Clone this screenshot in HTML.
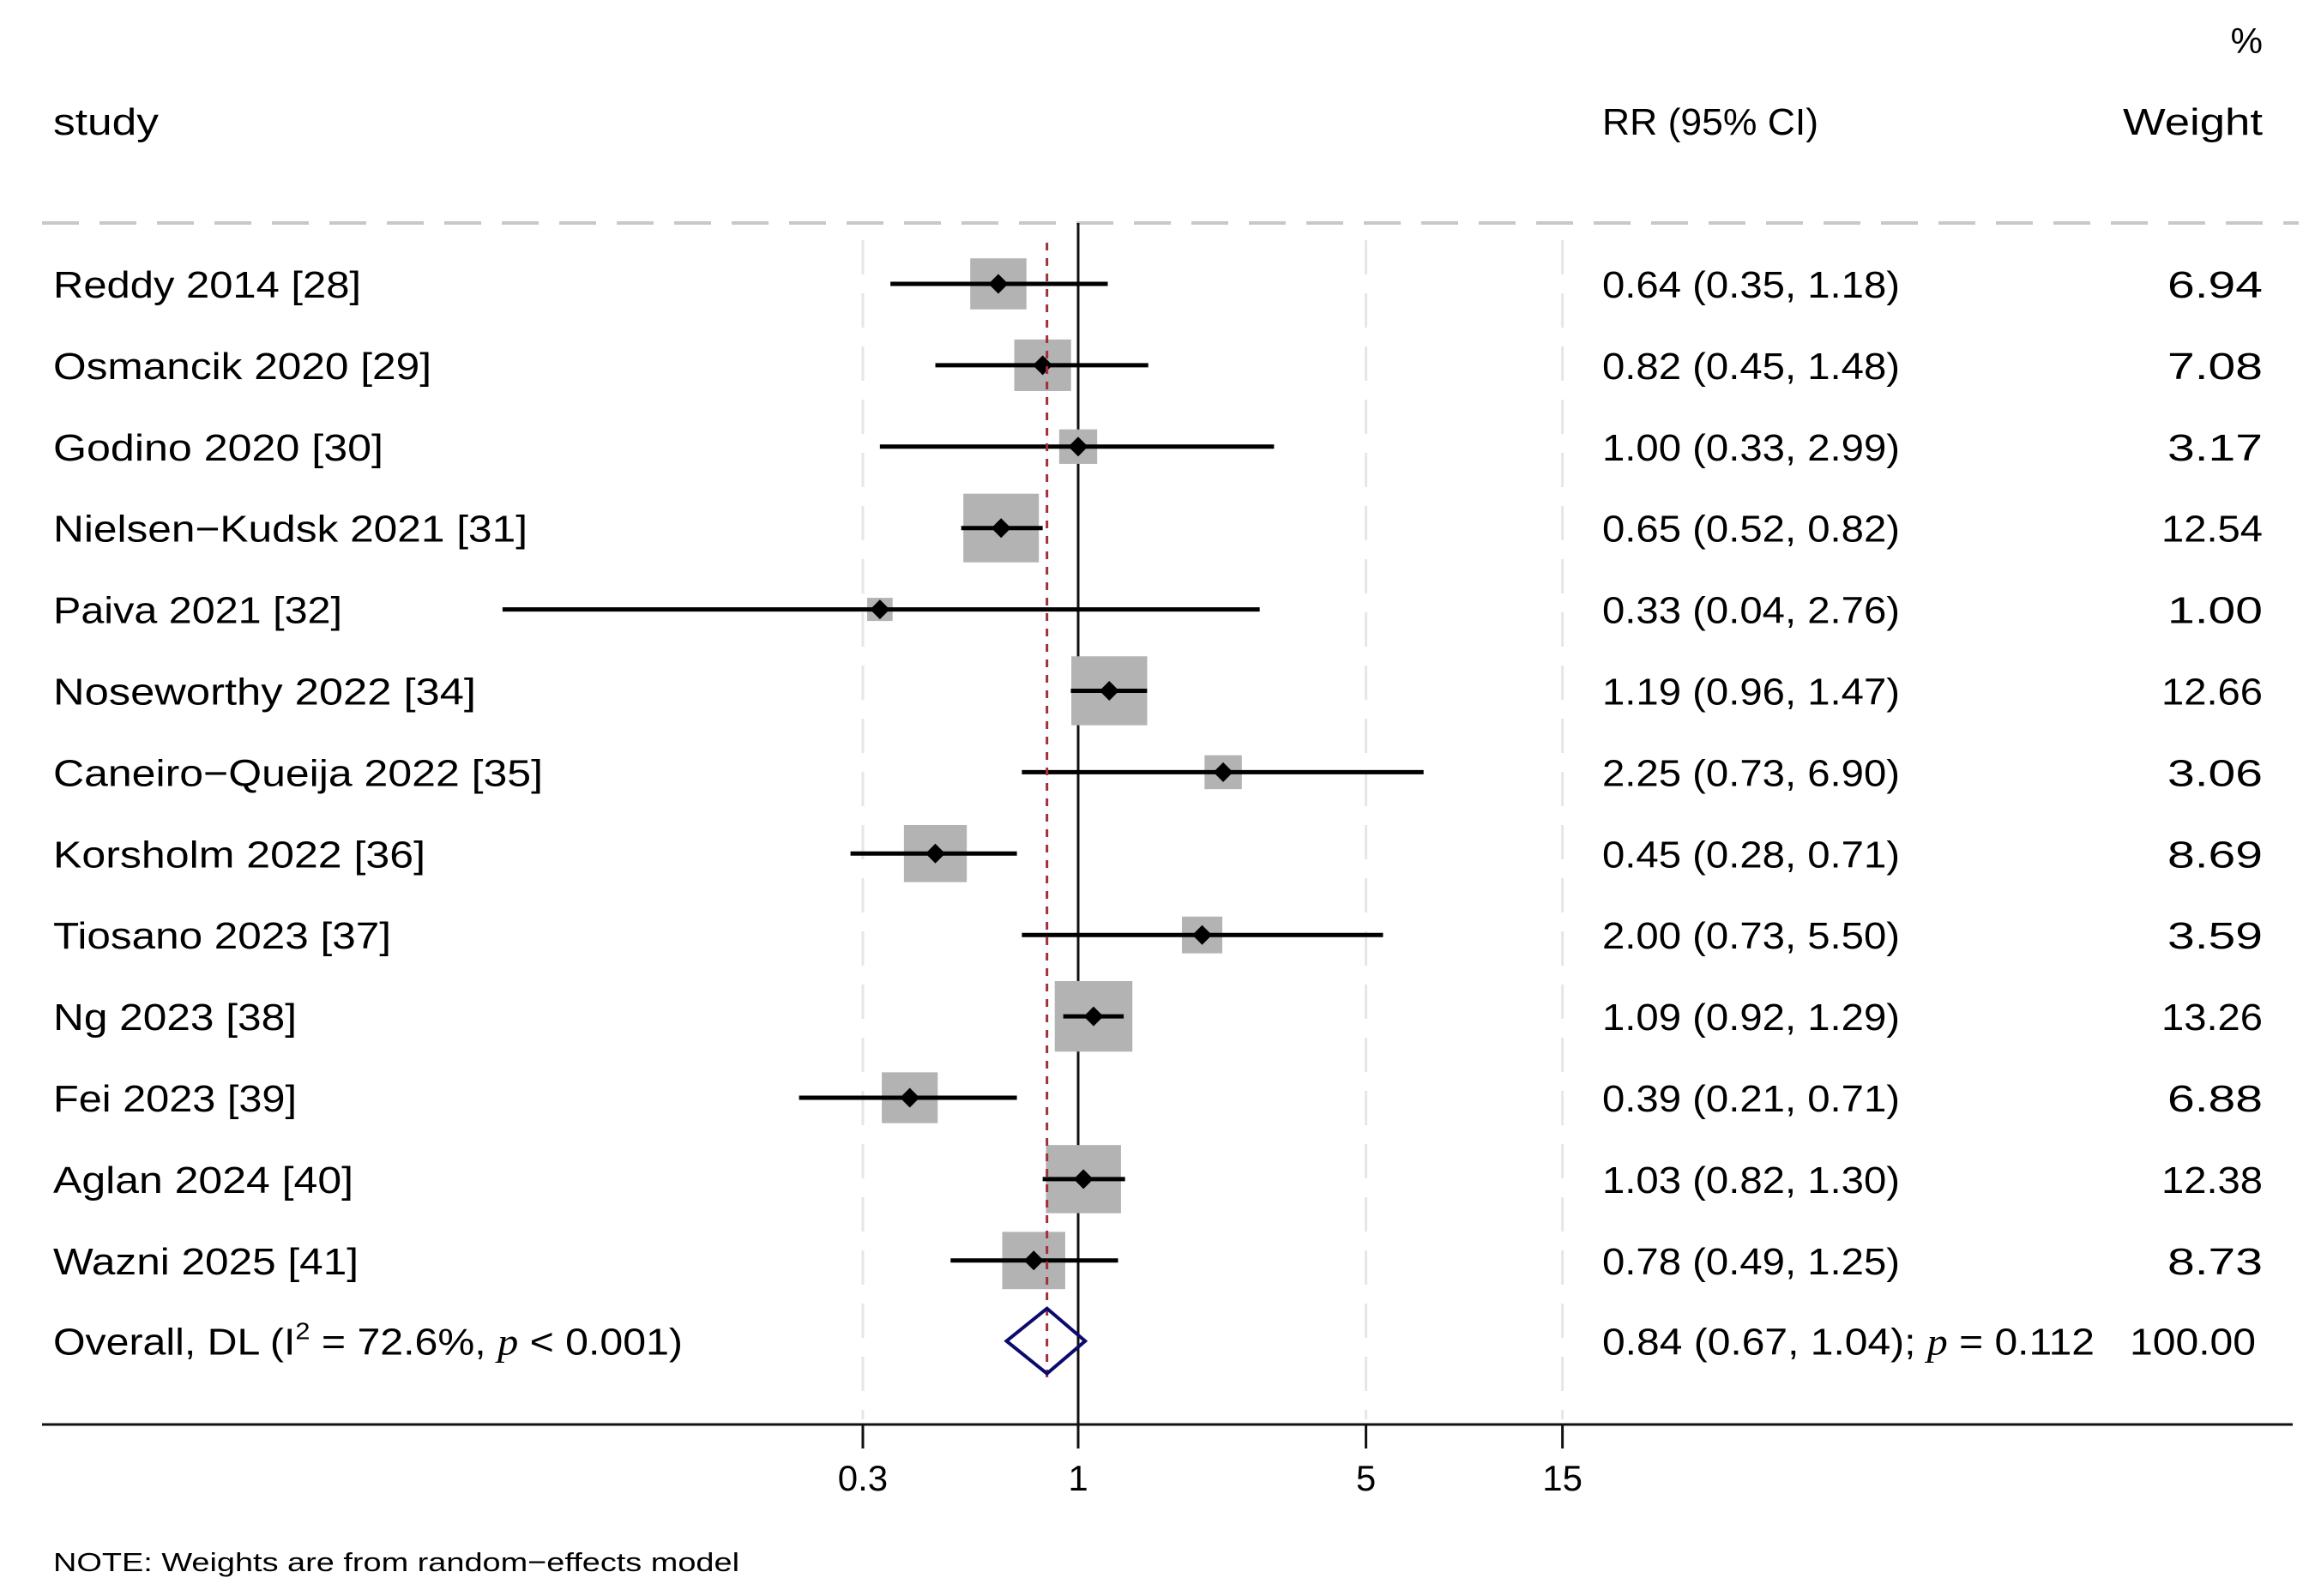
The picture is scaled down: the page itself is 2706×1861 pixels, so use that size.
<!DOCTYPE html>
<html><head><meta charset="utf-8"><style>
html,body{margin:0;padding:0;background:#fff;}
svg{display:block;font-family:"Liberation Sans",sans-serif;}
</style></head><body>
<svg id="chart" width="2706" height="1861" viewBox="0 0 2706 1861" xmlns="http://www.w3.org/2000/svg">
<rect x="0" y="0" width="2706" height="1861" fill="#fff"/>
<text x="2638" y="62" text-anchor="end" font-size="42">%</text>
<text x="62" y="157" font-size="44" textLength="123" lengthAdjust="spacingAndGlyphs">study</text>
<text x="1868" y="157" font-size="44" textLength="252" lengthAdjust="spacingAndGlyphs">RR (95% CI)</text>
<text x="2638" y="157" text-anchor="end" font-size="44" textLength="163" lengthAdjust="spacingAndGlyphs">Weight</text>
<line x1="49" y1="260" x2="2680" y2="260" stroke="#c8c8c8" stroke-width="4" stroke-dasharray="43,24"/>
<g id="grid"></g>
<g id="marks"></g>
<g id="labels"></g>
<line x1="49" y1="1661" x2="2673" y2="1661" stroke="#111" stroke-width="3"/>
<g id="ticks"></g>
<text x="62" y="1832" font-size="31" textLength="800" lengthAdjust="spacingAndGlyphs">NOTE: Weights are from random−effects model</text>
</svg>
<script>
const studies = ["Reddy 2014 [28]","Osmancik 2020 [29]","Godino 2020 [30]","Nielsen−Kudsk 2021 [31]","Paiva 2021 [32]","Noseworthy 2022 [34]","Caneiro−Queija 2022 [35]","Korsholm 2022 [36]","Tiosano 2023 [37]","Ng 2023 [38]","Fei 2023 [39]","Aglan 2024 [40]","Wazni 2025 [41]"];
const rr = [0.64,0.82,1.00,0.65,0.33,1.19,2.25,0.45,2.00,1.09,0.39,1.03,0.78];
const lower = [0.35,0.45,0.33,0.52,0.04,0.96,0.73,0.28,0.73,0.92,0.21,0.82,0.49];
const upper = [1.18,1.48,2.99,0.82,2.76,1.47,6.90,0.71,5.50,1.29,0.71,1.30,1.25];
const weights = [6.94,7.08,3.17,12.54,1.00,12.66,3.06,8.69,3.59,13.26,6.88,12.38,8.73];
const overall = [0.84,0.67,1.04];
const overallWeight = "100.00";
const tickValues = [0.3,1,5,15];
const tickLabels = ["0.3","1","5","15"];
const studyWidths = [359,441,385,553,337,493,571,434,394,284,284,350,356];

const NS="http://www.w3.org/2000/svg";
const X0=1257, K=208.5;
function xs(v){return X0+K*Math.log(v);}
const Y0=331, DY=94.9;
function ys(i){return Y0+DY*i;}
function mk(tag,attrs,parent){const e=document.createElementNS(NS,tag);for(const k in attrs)e.setAttribute(k,attrs[k]);parent.appendChild(e);return e;}
const grid=document.getElementById('grid'),marks=document.getElementById('marks'),labels=document.getElementById('labels'),ticks=document.getElementById('ticks');
const fmt=v=>v.toFixed(2);

tickValues.forEach((v,i)=>{
  const x=xs(v);
  if(v!==1){
    const g=mk('line',{x1:x,y1:280,x2:x,y2:1655,stroke:'#e6e6e6','stroke-width':3,'stroke-dasharray':'40,22'},grid);
    
    
  }
  const t=mk('line',{x1:x,y1:1661,x2:x,y2:1689,stroke:'#111','stroke-width':3},ticks);
  
  
  const l=mk('text',{x:x,y:1738,'text-anchor':'middle','font-size':42},ticks);
  l.textContent=tickLabels[i];
  
  
});

const nl=mk('line',{x1:xs(1),y1:260,x2:xs(1),y2:1661,stroke:'#111','stroke-width':3},marks);



studies.forEach((s,i)=>{
  const y=ys(i), cx=xs(rr[i]);
  const h=Math.max(27,22.6*Math.sqrt(weights[i])), w=h*1.1;
  const b=mk('rect',{x:cx-w/2,y:y-h/2,width:w,height:h,fill:'#b3b3b3'},marks);
  
  
  const ci=mk('line',{x1:xs(lower[i]),y1:y,x2:xs(upper[i]),y2:y,stroke:'#000','stroke-width':5},marks);
  
  
  const d=mk('polygon',{points:`${cx-11.5},${y} ${cx},${y-11.5} ${cx+11.5},${y} ${cx},${y+11.5}`,fill:'#000'},marks);
  
  
  const t1=mk('text',{x:62,y:y+16,'font-size':44,textLength:studyWidths[i],lengthAdjust:'spacingAndGlyphs'},labels);
  t1.textContent=s;
  
  
  const t2=mk('text',{x:1868,y:y+16,'font-size':44,textLength:347,lengthAdjust:'spacingAndGlyphs'},labels);
  t2.textContent=`${fmt(rr[i])} (${fmt(lower[i])}, ${fmt(upper[i])})`;
  
  
  const ws=fmt(weights[i]);
  const t3=mk('text',{x:2638,y:y+16,'font-size':44,'text-anchor':'end',textLength:ws.length>4?118:111,lengthAdjust:'spacingAndGlyphs'},labels);
  t3.textContent=ws;
  
  
});

// overall
const oy=ys(13)-1;
const rl=mk('line',{x1:xs(overall[0]),y1:283,x2:xs(overall[0]),y2:1613,stroke:'#a0303a','stroke-width':3,'stroke-dasharray':'9,9'},marks);


const od=mk('polygon',{points:`${xs(overall[1])},${oy} ${xs(overall[0])},${oy-38} ${xs(overall[2])},${oy} ${xs(overall[0])},${oy+38}`,fill:'none',stroke:'#0b0b6e','stroke-width':4},marks);


const ot=mk('text',{x:62,y:oy+16,'font-size':44,textLength:734,lengthAdjust:'spacingAndGlyphs'},labels);
ot.innerHTML='Overall, DL (I<tspan font-size="28" dy="-18">2</tspan><tspan dy="18"> = 72.6%, </tspan><tspan font-family="Liberation Serif" font-style="italic">p</tspan> &lt; 0.001)';


const or=mk('text',{x:1868,y:oy+16,'font-size':44,textLength:574,lengthAdjust:'spacingAndGlyphs'},labels);
or.innerHTML=`${fmt(overall[0])} (${fmt(overall[1])}, ${fmt(overall[2])}); <tspan font-family="Liberation Serif" font-style="italic">p</tspan> = 0.112`;


const ow=mk('text',{x:2630,y:oy+16,'font-size':44,'text-anchor':'end',textLength:147,lengthAdjust:'spacingAndGlyphs'},labels);
ow.textContent=overallWeight;


</script>
</body></html>
